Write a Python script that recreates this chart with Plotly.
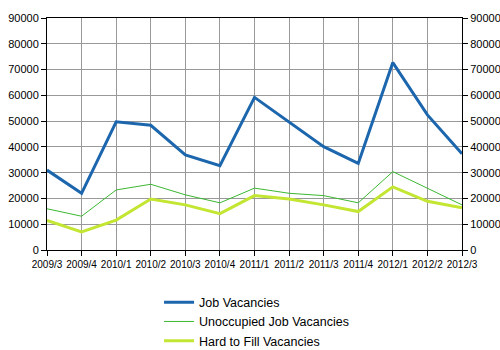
import plotly.graph_objects as go

categories = ["2009/3", "2009/4", "2010/1", "2010/2", "2010/3", "2010/4", "2011/1",
              "2011/2", "2011/3", "2011/4", "2012/1", "2012/2", "2012/3"]
job_vacancies = [31000, 22000, 49700, 48400, 36900, 32700, 59200, 49800, 40100, 33600, 72700, 52400, 37300]
unoccupied = [16000, 13100, 23300, 25500, 21400, 18300, 24000, 22000, 21100, 18300, 30400, 24000, 17500]
hard_to_fill = [11500, 7000, 11600, 19800, 17500, 14100, 21100, 19800, 17500, 14900, 24500, 18900, 16400]
y_ticks = list(range(0, 90001, 10000))

fig = go.Figure()
fig.add_trace(go.Scatter(x=categories, y=job_vacancies, mode="lines", name="Job Vacancies",
                         line=dict(color="#1c66ad", width=3)))
fig.add_trace(go.Scatter(x=categories, y=unoccupied, mode="lines", name="Unoccupied Job Vacancies",
                         line=dict(color="#3cb832", width=1)))
fig.add_trace(go.Scatter(x=categories, y=hard_to_fill, mode="lines", name="Hard to Fill Vacancies",
                         line=dict(color="#c3e632", width=3)))
fig.add_trace(go.Scatter(x=categories, y=job_vacancies, mode="lines", yaxis="y2",
                         showlegend=False, hoverinfo="skip", line=dict(width=0), opacity=0))

font = "Liberation Sans, Arial, sans-serif"
fig.update_layout(
    width=500, height=350,
    margin=dict(l=47, r=38, t=18, b=100, autoexpand=False),
    plot_bgcolor="white", paper_bgcolor="white",
    font=dict(family=font, color="black", size=11),
    xaxis=dict(type="category", range=[0, 12], showgrid=True, gridcolor="#999999", gridwidth=1,
               showline=True, linecolor="black", linewidth=1, mirror=True,
               ticks="outside", ticklen=5, tickcolor="black", tickangle=0,
               tickfont=dict(size=10), zeroline=False, automargin=False),
    yaxis=dict(range=[0, 90000], tickvals=y_ticks, tickformat="d", showgrid=True,
               gridcolor="#999999", gridwidth=1,
               showline=True, linecolor="black", linewidth=1,
               ticks="outside", ticklen=5, tickcolor="black", tickfont=dict(size=11),
               zeroline=False, automargin=False),
    yaxis2=dict(range=[0, 90000], tickvals=y_ticks, tickformat="d", overlaying="y", side="right",
                showgrid=False, showline=True, linecolor="black", linewidth=1,
                ticks="outside", ticklen=5, tickcolor="black", tickfont=dict(size=11),
                zeroline=False, automargin=False),
    legend=dict(x=0.27, y=-0.162, xanchor="left", yanchor="top",
                font=dict(size=12.5, family=font), tracegroupgap=0, itemwidth=30,
                bgcolor="rgba(0,0,0,0)"),
    showlegend=True,
)

fig.write_html("out.html")
